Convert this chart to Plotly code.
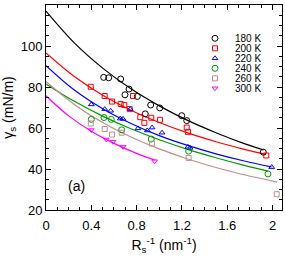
import plotly.graph_objects as go

# ---- data ----
labels = ["180 K", "200 K", "220 K", "240 K", "260 K", "300 K"]
colors = ["#000000", "#ff0000", "#0000ff", "#009a00", "#bc8f8f", "#ff00ff"]
symbols = ["circle-open", "square-open", "triangle-up-open", "circle-open", "square-open", "triangle-down-open"]

x180 = [0.509, 0.553, 0.659, 0.697, 0.733, 0.806, 0.876, 0.924, 1.004, 1.198, 1.242, 1.918]
y180 = [84.7, 84.5, 83.9, 76.2, 79.0, 75.4, 66.9, 71.2, 69.8, 66.0, 63.6, 48.2]
x200 = [0.395, 0.518, 0.583, 0.659, 0.691, 0.739, 0.768, 0.832, 0.868, 0.929, 1.006, 1.242, 1.253, 1.944]
y200 = [80.1, 75.6, 72.9, 71.7, 71.2, 69.2, 75.6, 65.3, 62.5, 65.0, 64.0, 60.2, 58.1, 46.6]
x220 = [0.400, 0.518, 0.571, 0.656, 0.680, 0.744, 0.812, 0.894, 0.936, 1.024, 1.253, 1.271, 1.992]
y220 = [71.5, 69.2, 68.4, 64.6, 64.4, 69.2, 59.8, 58.8, 60.2, 57.7, 50.8, 50.3, 40.9]
x240 = [0.400, 0.512, 0.576, 0.668, 0.929, 1.259, 1.959]
y240 = [64.2, 65.1, 64.2, 59.1, 54.6, 48.7, 37.6]
x260 = [0.395, 0.518, 0.583, 0.668, 0.936, 1.259, 2.036]
y260 = [62.2, 59.5, 56.8, 57.7, 52.4, 45.4, 27.7]
x300 = [0.400, 0.532, 0.591, 0.680, 0.959]
y300 = [59.0, 54.4, 53.3, 50.8, 43.8]

# fitted curves
fx180 = [0, 0.25, 0.5, 0.75, 1.0, 1.25, 1.5, 1.75, 1.92]
fy180 = [117.0, 101.5, 89.2, 79.1, 70.8, 63.7, 57.7, 52.4, 49.3]
fx200 = [0, 0.25, 0.5, 0.75, 1.0, 1.25, 1.5, 1.75, 1.94]
fy200 = [96.6, 85.1, 76.0, 68.7, 62.7, 57.6, 53.3, 49.6, 47.1]
fx220 = [0, 0.25, 0.5, 0.75, 1.0, 1.25, 1.5, 1.75, 1.99]
fy220 = [90.4, 78.5, 69.4, 62.2, 56.3, 51.5, 47.4, 43.9, 41.0]
fx240 = [0, 0.25, 0.5, 0.75, 1.0, 1.25, 1.5, 1.75, 1.96]
fy240 = [81.5, 73.0, 65.8, 59.6, 54.25, 49.6, 45.5, 41.8, 39.0]
fx260 = [0, 0.25, 0.5, 0.75, 1.0, 1.25, 1.5, 1.75, 2.04]
fy260 = [82.7, 71.5, 62.7, 55.6, 49.8, 44.9, 40.75, 37.2, 33.6]
fx300 = [0, 0.2, 0.4, 0.6, 0.8, 0.96]
fy300 = [75.7, 65.9, 58.4, 52.5, 47.6, 44.3]

pts = [(x180, y180), (x200, y200), (x220, y220), (x240, y240), (x260, y260), (x300, y300)]
fits = [(fx180, fy180), (fx200, fy200), (fx220, fy220), (fx240, fy240), (fx260, fy260), (fx300, fy300)]

FONT = "Liberation Sans, Arial, sans-serif"
W, H = 285, 258
ML, MR, MT, MB = 46, 3, 5, 48
PW, PH = W - ML - MR, H - MT - MB

fig = go.Figure()
for (fx, fy), c in zip(fits, colors):
    fig.add_trace(go.Scatter(x=fx, y=fy, mode="lines", line=dict(color=c, width=1.2, shape="spline"),
                             showlegend=False, hoverinfo="skip"))

legend_rows = [33.3, 43.3, 53.3, 63.3, 73.3, 83.3]
for i, ((px, py), c, s, lab) in enumerate(zip(pts, colors, symbols, labels)):
    lg = "legend" if i == 0 else f"legend{i+1}"
    fig.add_trace(go.Scatter(x=px, y=py, mode="markers", name=lab, legend=lg,
                             marker=dict(symbol=s, color=c, size=6 if "circle" in s else 5,
                                         line=dict(color=c, width=1))))

layout_legends = {}
for i, yrow in enumerate(legend_rows):
    key = "legend" if i == 0 else f"legend{i+1}"
    top_px = yrow - 9.5
    layout_legends[key] = dict(x=(195 - ML) / PW, y=(MT + PH - top_px) / PH, xref="paper", yref="paper",
                               xanchor="left", yanchor="top", bgcolor="rgba(0,0,0,0)",
                               borderwidth=0, font=dict(family=FONT, size=10, color="black"))

axis_common = dict(showline=True, linecolor="black", linewidth=1, mirror="allticks",
                   ticks="inside", ticklen=5, tickwidth=1, tickcolor="black",
                   showgrid=False, zeroline=False, automargin=False,
                   tickfont=dict(family=FONT, size=13, color="black"))

fig.update_layout(
    width=W, height=H,
    margin=dict(l=ML, r=MR, t=MT, b=MB, autoexpand=False),
    plot_bgcolor="white", paper_bgcolor="white",
    font=dict(family=FONT, color="black"),
    xaxis=dict(range=[0, 2.083], tickvals=[0, 0.4, 0.8, 1.2, 1.6, 2], ticktext=["0", "0.4", "0.8", "1.2", "1.6", "2"],
               minor=dict(dtick=0.1, tick0=0, ticks="inside", ticklen=3, tickcolor="black"),
               ticklabelstandoff=3,
               title=dict(text="R<sub>s</sub><sup>-1</sup> (nm<sup>-1</sup>)", font=dict(family=FONT, size=14), standoff=8),
               **axis_common),
    yaxis=dict(range=[20, 120], tickvals=[20, 40, 60, 80, 100, 120],
               minor=dict(dtick=5, tick0=0, ticks="inside", ticklen=3, tickcolor="black"),
               title=dict(text="γ<sub>s</sub> (mN/m)", font=dict(family=FONT, size=14), standoff=6),
               **axis_common),
    annotations=[dict(text="(a)", x=0.085, y=0.068, xref="paper", yref="paper", showarrow=False,
                      font=dict(family=FONT, size=14, color="black"))],
    **layout_legends,
)

fig.write_html("out.html", config={"displayModeBar": False},
               post_script="document.body.style.margin='0';document.body.style.overflow='hidden';")
